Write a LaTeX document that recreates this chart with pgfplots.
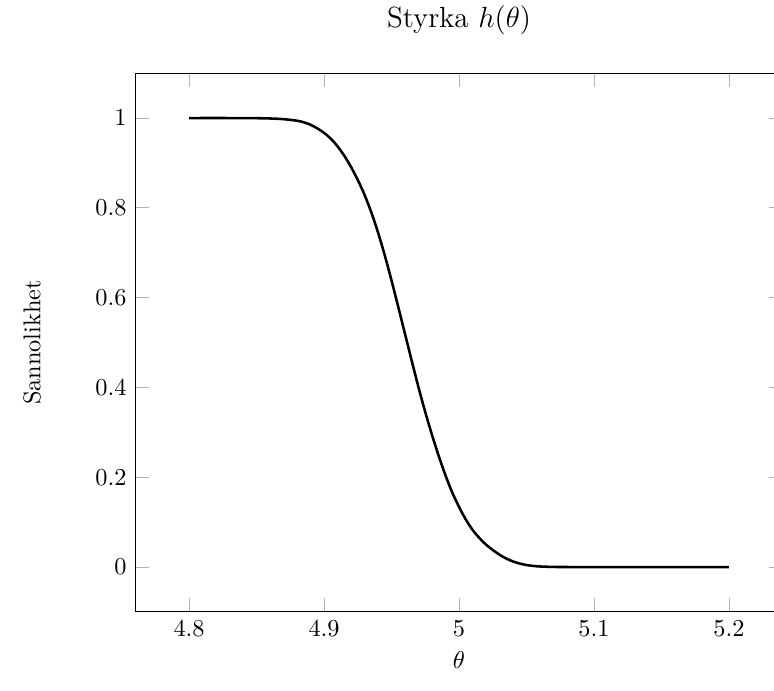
\documentclass[border=0pt]{standalone}
\usepackage{pgfplots}
\pgfplotsset{compat=1.18}
\begin{document}
\begin{tikzpicture}
\begin{axis}[
    at={(0,0)}, anchor=south west,
    scale only axis,
    width=266.7pt, height=221.8pt,
    xmin=4.76, xmax=5.24,
    ymin=-0.1, ymax=1.1,
    xtick={4.8,4.9,5,5.1,5.2},
    ytick={0,0.2,0.4,0.6,0.8,1},
    tick style={gray!60, thin},
    major tick length=5.8pt,
    title={Styrka $h(\theta)$},
    title style={font=\large, at={(axis description cs:0.5,1.0703)}, anchor=center},
    xlabel={$\theta$},
    xlabel style={at={(axis description cs:0.5,-0.0893)}, anchor=center},
    ylabel={Sannolikhet},
    ylabel style={at={(axis description cs:-0.159,0.5)}, anchor=center},
]
% styrkefunktionen, avläst
\addplot[black, line width=1.05pt, smooth] coordinates {
    (4.80, 1.0) (4.83, 1.0) (4.85, 0.9996) (4.86, 0.999)
    (4.87, 0.9975) (4.88, 0.994) (4.885, 0.9905) (4.89, 0.985)
    (4.895, 0.977) (4.90, 0.967) (4.905, 0.954) (4.91, 0.937)
    (4.915, 0.916) (4.92, 0.891) (4.925, 0.862) (4.93, 0.829)
    (4.935, 0.790) (4.94, 0.745) (4.945, 0.694) (4.95, 0.638)
    (4.955, 0.579) (4.96, 0.519) (4.965, 0.459) (4.97, 0.400)
    (4.975, 0.345) (4.98, 0.294) (4.985, 0.247) (4.99, 0.204)
    (4.995, 0.166) (5.00, 0.134) (5.005, 0.106) (5.01, 0.083)
    (5.015, 0.065) (5.02, 0.050) (5.025, 0.038) (5.03, 0.0275)
    (5.035, 0.019) (5.04, 0.0125) (5.045, 0.0078) (5.05, 0.0045)
    (5.055, 0.0025) (5.06, 0.0013) (5.07, 0.0003) (5.08, 0.0001)
    (5.10, 0.0) (5.15, 0.0) (5.20, 0.0)
};
\end{axis}
\pgfresetboundingbox
\useasboundingbox (-55.6pt,-32.5pt) rectangle (263.0pt,251.9pt);
\end{tikzpicture}
\end{document}
